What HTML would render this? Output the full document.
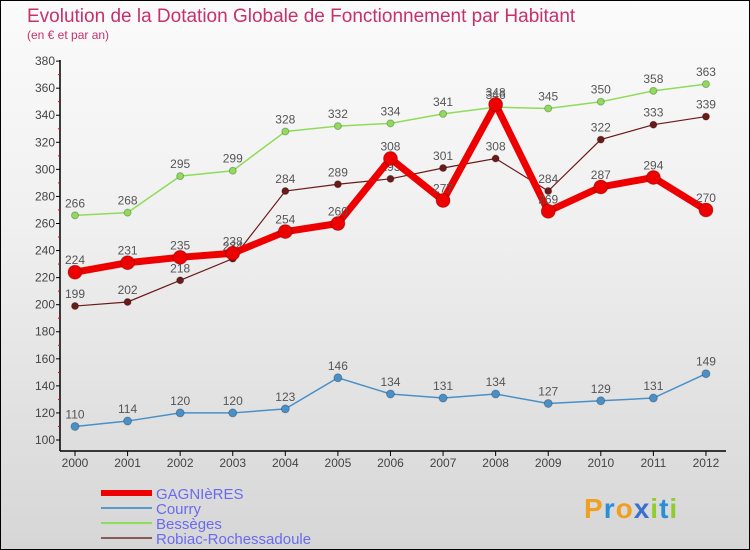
<!DOCTYPE html>
<html><head><meta charset="utf-8"><style>
body{margin:0}
#c{width:748px;height:548px;border:1px solid #000;background:linear-gradient(#fbfbfb,#f0f0f0 40%,#d6d6d6);position:relative;overflow:hidden;font-family:"Liberation Sans",sans-serif}
</style></head><body>
<div id="c">
<svg id="s" width="748" height="548" xmlns="http://www.w3.org/2000/svg" font-family="Liberation Sans, sans-serif">
<text x="26" y="21" font-size="19" fill="#c8306a">Evolution de la Dotation Globale de Fonctionnement par Habitant</text>
<text x="26" y="38" font-size="12" fill="#c8306a">(en € et par an)</text>
<g id="g"></g>
</svg>
</div>
<script>
const years=["2000","2001","2002","2003","2004","2005","2006","2007","2008","2009","2010","2011","2012"];
const yTicks=[100,120,140,160,180,200,220,240,260,280,300,320,340,360,380];
const gagnieres=[224,231,235,238,254,260,308,277,348,269,287,294,270];
const courry=[110,114,120,120,123,146,134,131,134,127,129,131,149];
const besseges=[266,268,295,299,328,332,334,341,346,345,350,358,363];
const robiac=[199,202,218,234,284,289,293,301,308,284,322,333,339];
const NS="http://www.w3.org/2000/svg";
const g=document.getElementById('g');
function X(i){return 74+i*52.58;}
function Y(v){return 439-(v-100)*(379/280)*0.9997;}
function mk(t,a,p){const e=document.createElementNS(NS,t);for(const k in a)e.setAttribute(k,a[k]);(p||g).appendChild(e);return e;}
let ax=mk('line',{x1:59,y1:59,x2:59,y2:450,stroke:'#000','stroke-width':1.5});


ax=mk('line',{x1:59,y1:450,x2:725,y2:450,stroke:'#000','stroke-width':1.5});


yTicks.forEach(v=>{
  mk('line',{x1:55,y1:Y(v),x2:59,y2:Y(v),stroke:'#000'});
  if(v<380) mk('line',{x1:57,y1:Y(v+10),x2:59,y2:Y(v+10),stroke:'#e00'});
  const t=mk('text',{x:54,y:Y(v)+4,'font-size':12,'text-anchor':'end',fill:'#444'});t.textContent=v;
  
  
});
years.forEach((y,i)=>{
  mk('line',{x1:X(i),y1:450,x2:X(i),y2:455,stroke:'#000'});
  const t=mk('text',{x:X(i),y:466,'font-size':12,'text-anchor':'middle',fill:'#444'});t.textContent=y;
  
  
});
function series(data,color,w,r,name){
  const pl=mk('polyline',{points:data.map((v,i)=>X(i)+','+Y(v)).join(' '),fill:'none',stroke:color,'stroke-width':w,'stroke-linejoin':'miter'});
  
  
  data.forEach((v,i)=>{
    const c=mk('circle',{cx:X(i),cy:Y(v),r:r,fill:color,stroke:'rgba(0,0,0,0.25)','stroke-width':1});
    
    
    const t=mk('text',{x:X(i),y:Y(v)-8,'font-size':12,'text-anchor':'middle',fill:'#555'});t.textContent=v;
    
    
  });
}
series(courry,'#4a90c8',1.5,4,'courry');
series(besseges,'#8fdc5a',1.5,3.5,'besseges');
series(robiac,'#6b1a1a',1.2,3.5,'robiac');
series(gagnieres,'#ee0000',7,7,'gagnieres');
const leg=[['GAGNIèRES','#ee0000',6],['Courry','#5a9ac8',2],['Bessèges','#8fdc5a',2],['Robiac-Rochessadoule','#8a5a5a',2]];
leg.forEach((l,i)=>{
  const y=492+i*15;
  const ln=mk('line',{x1:100,y1:y,x2:151,y2:y,stroke:l[1],'stroke-width':l[2]});
  
  
  const t=mk('text',{x:155,y:y+6,'font-size':15,fill:'#6a6af0'});t.textContent=l[0];
  
  
});
const p=mk('text',{x:583,y:517,'font-size':28,'font-weight':'bold',fill:'#2a8fd8','letter-spacing':1});
p.innerHTML='<tspan fill="#f0a020">P</tspan>r<tspan fill="#f0a020">o</tspan><tspan fill="#3a70d0">x</tspan><tspan fill="#8fcc30">i</tspan>t<tspan fill="#8fcc30">i</tspan>';


</script>
</body></html>
